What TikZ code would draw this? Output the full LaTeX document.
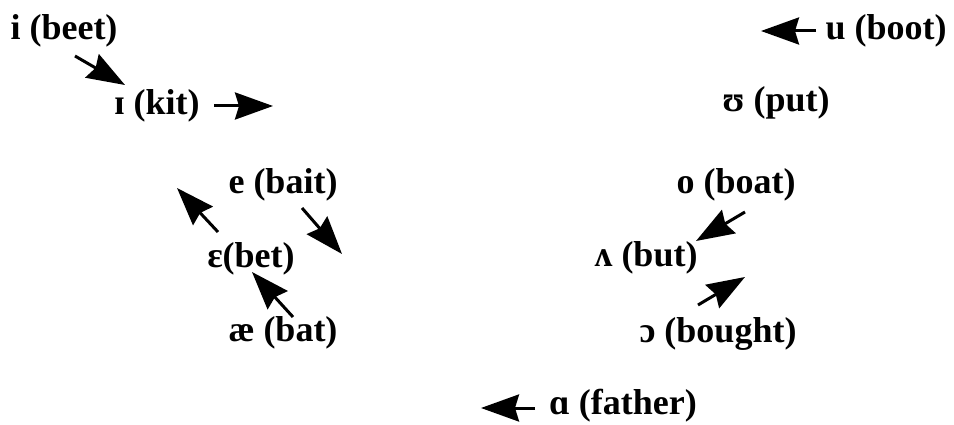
\documentclass[tikz,border=0pt]{standalone}
\usepackage{fontspec}
\setmainfont{Liberation Serif}
\usetikzlibrary{arrows.meta}
\begin{document}
\begin{tikzpicture}[x=1pt,y=-1pt,
  lab/.style={font=\fontsize{36}{40}\bfseries\selectfont, inner sep=0pt, anchor=center},
  arr/.style={line width=3pt, -{Stealth[length=38pt,width=27pt,inset=4pt]}}]
\useasboundingbox (0,0) rectangle (954,425);
% labels
\node[lab] (beet) at (64,31) {i (beet)};
\node[lab] (kit) at (157,106) {ɪ (kit)};
\node[lab] (bait) at (283,185) {e (bait)};
\node[lab] (bet) at (251,259) {ɛ(bet)};
\node[lab] (bat) at (283,333) {æ (bat)};
\node[lab] (boot) at (886,31) {u (boot)};
\node[lab] (put) at (776,103) {ʊ (put)};
\node[lab] (boat) at (736,185) {o (boat)};
\node[lab] (but) at (646,258) {ʌ (but)};
\node[lab] (bought) at (718,334) {ɔ (bought)};
\node[lab] (father) at (623,406) {ɑ (father)};
% arrow end points
\coordinate (a1s) at (75,56);   \coordinate (a1e) at (125,85);
\coordinate (a2s) at (214,106); \coordinate (a2e) at (273,106);
\coordinate (a3s) at (302,208); \coordinate (a3e) at (342,254);
\coordinate (a4s) at (218,232); \coordinate (a4e) at (177,188);
\coordinate (a5s) at (293,317); \coordinate (a5e) at (252,272);
\coordinate (a6s) at (816,31);  \coordinate (a6e) at (761,31);
\coordinate (a7s) at (745,212); \coordinate (a7e) at (696,241);
\coordinate (a8s) at (698,305); \coordinate (a8e) at (745,277);
\coordinate (a9s) at (535,408); \coordinate (a9e) at (481,408);
% arrows
\draw[arr] (a1s) -- (a1e);
\draw[arr] (a2s) -- (a2e);
\draw[arr] (a3s) -- (a3e);
\draw[arr] (a4s) -- (a4e);
\draw[arr] (a5s) -- (a5e);
\draw[arr] (a6s) -- (a6e);
\draw[arr] (a7s) -- (a7e);
\draw[arr] (a8s) -- (a8e);
\draw[arr] (a9s) -- (a9e);
\end{tikzpicture}
\end{document}
